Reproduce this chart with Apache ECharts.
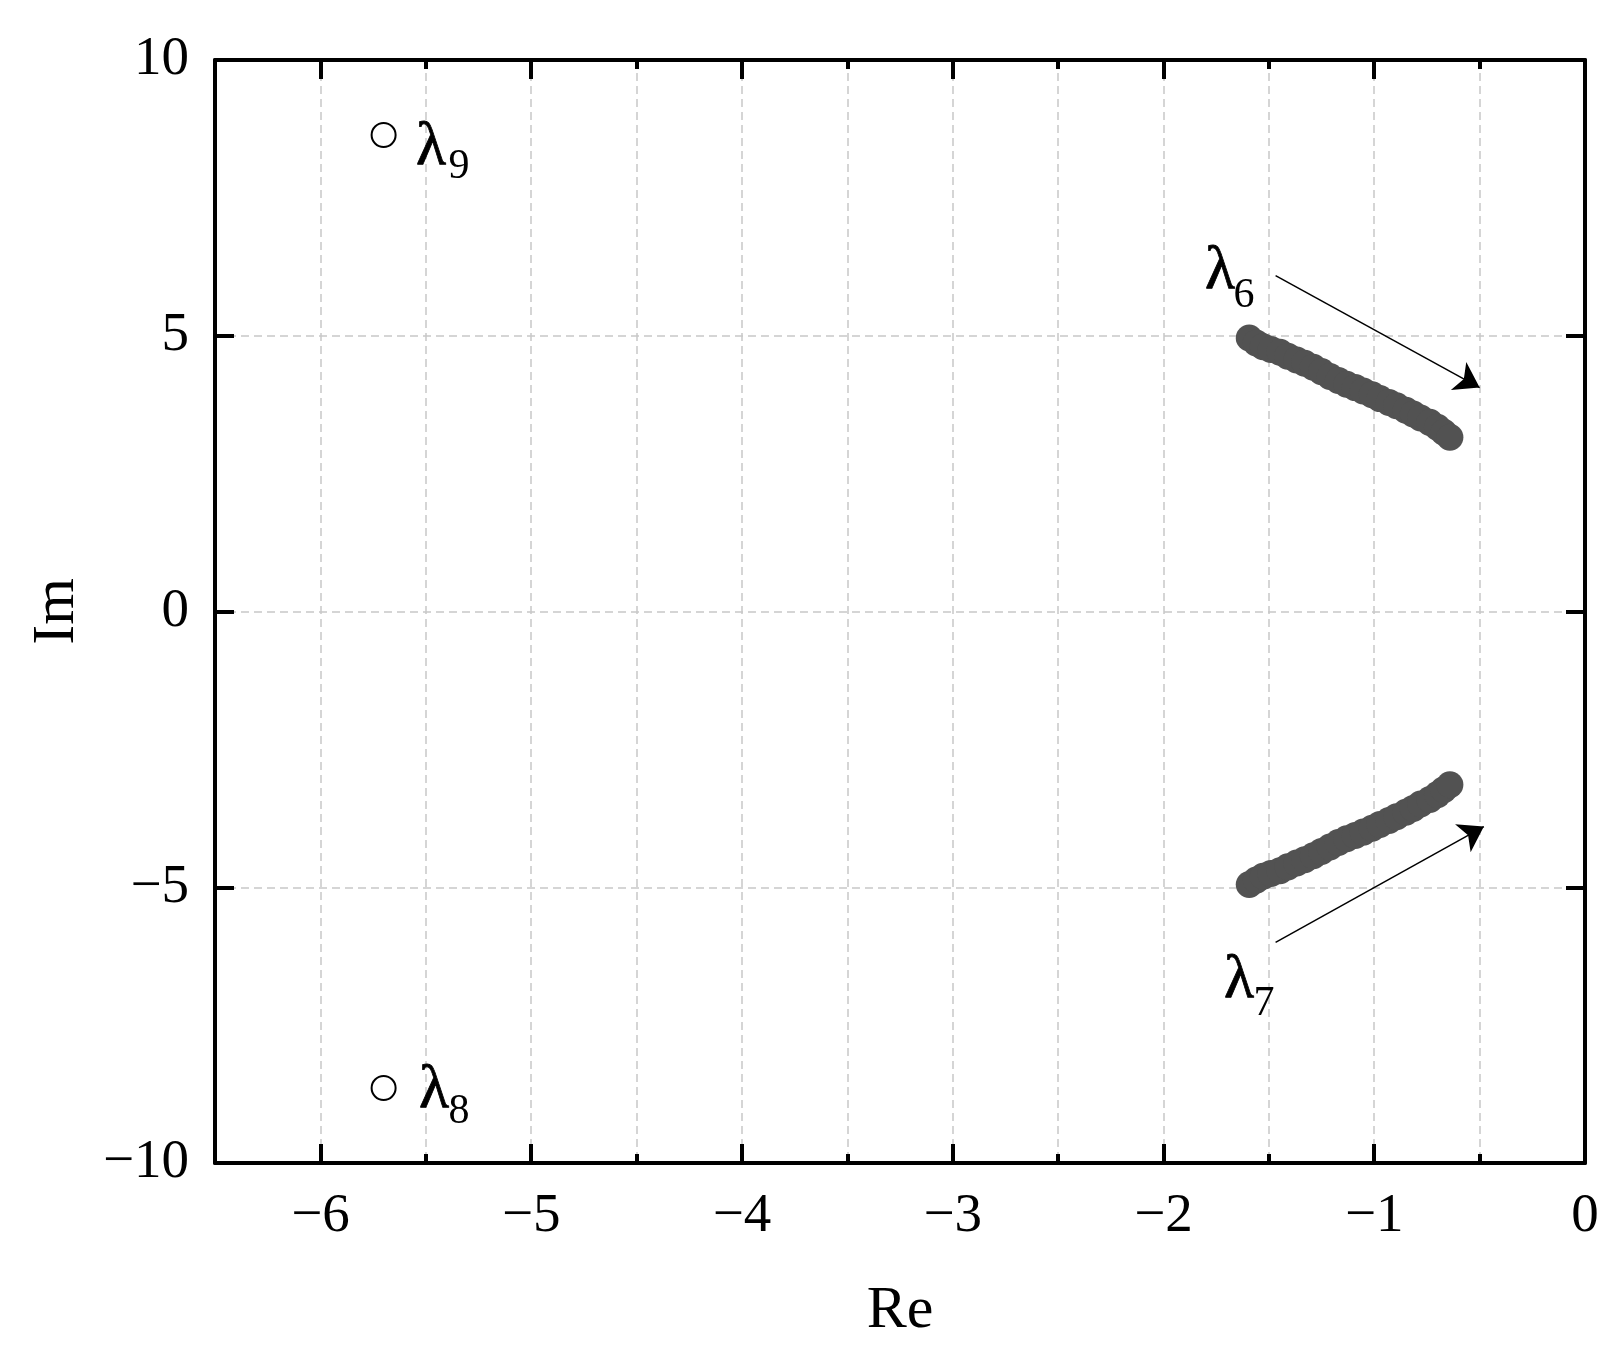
<!DOCTYPE html>
<html>
<head>
<meta charset="utf-8">
<script src="https://cdn.jsdelivr.net/npm/echarts@6/dist/echarts.min.js"></script>
<style>
  html, body { margin: 0; padding: 0; background: #fff; }
  #chart { width: 1621px; height: 1357px; }
</style>
</head>
<body>
<div id="chart"></div>
<script>
// 特征值轨迹 λ6 / λ7（密集点）
const lambda6Re = [-1.593, -1.56, -1.527, -1.49, -1.447, -1.41, -1.368, -1.33, -1.289, -1.25, -1.21, -1.17, -1.131,
    -1.09, -1.052, -1.01, -0.973, -0.93, -0.894, -0.85, -0.815, -0.78, -0.736, -0.70, -0.67, -0.641];
const lambda6Im = [4.96, 4.87, 4.80, 4.75, 4.70, 4.63, 4.56, 4.50, 4.43, 4.35, 4.26, 4.19, 4.12,
    4.06, 4.00, 3.93, 3.86, 3.79, 3.73, 3.65, 3.58, 3.51, 3.43, 3.34, 3.25, 3.16];
const lambda7Re = [-1.593, -1.56, -1.527, -1.49, -1.447, -1.41, -1.368, -1.33, -1.289, -1.25, -1.21, -1.17, -1.131,
    -1.09, -1.052, -1.01, -0.973, -0.93, -0.894, -0.85, -0.815, -0.78, -0.736, -0.70, -0.67, -0.641];
const lambda7Im = [-4.95, -4.87, -4.80, -4.75, -4.70, -4.63, -4.56, -4.50, -4.43, -4.35, -4.27, -4.19, -4.12,
    -4.06, -4.00, -3.93, -3.86, -3.79, -3.72, -3.64, -3.57, -3.49, -3.41, -3.32, -3.23, -3.14];

// 固定特征值 λ8 / λ9（空心圆）
const fixedRe = [-5.70, -5.70];
const fixedIm = [8.64, -8.64];

// 箭头（起点、终点）
const arrow6 = [[-1.468, 6.09], [-0.50, 4.06]];
const arrow7 = [[-1.468, -6.00], [-0.48, -3.90]];

// 标注
const labelText = ['λ', 'λ', 'λ', 'λ'];
const labelPos = [[-1.732, 6.155], [-1.642, -6.70], [-5.475, 8.404], [-5.461, -8.695]];
const subText = ['6', '7', '9', '8'];
const subPos = [[-1.618, 5.72], [-1.523, -7.12], [-5.342, 8.06], [-5.342, -9.076]];

// 坐标轴
const xMin = -6.5, xMax = 0;
const yMin = -10, yMax = 10, yStep = 5;

const FONT = "'Liberation Serif', 'Times New Roman', serif";

function fmtNum(v) {
    if (Math.abs(v - Math.round(v)) > 1e-9) return '';
    return v < 0 ? '\u2212' + Math.abs(v) : String(v);
}

function zip(a, b) {
    return a.map((v, i) => [v, b[i]]);
}

const chart = echarts.init(document.getElementById('chart'));

const frameLine = { show: true, onZero: false, lineStyle: { color: '#000', width: 4 } };
const majorTick = { show: true, inside: true, length: 19, lineStyle: { color: '#000', width: 4 } };
const dashGrid = { show: true, lineStyle: { color: '#c8c8c8', width: 1.5, type: [8, 5] } };

const option = {
    animation: false,
    backgroundColor: '#fff',
    grid: { left: 215, right: 36, top: 60, bottom: 194, containLabel: false },
    xAxis: [
        {
            type: 'value', position: 'bottom', min: xMin, max: xMax, splitNumber: 6,
            name: 'Re', nameLocation: 'middle', nameGap: 118,
            nameTextStyle: { fontFamily: FONT, fontSize: 60, color: '#000' },
            axisLine: frameLine,
            axisTick: majorTick,
            minorTick: { show: true, splitNumber: 2, length: 9, lineStyle: { color: '#000', width: 4 } },
            axisLabel: { fontFamily: FONT, fontSize: 55, color: '#000', margin: 26, formatter: fmtNum },
            splitLine: dashGrid,
            minorSplitLine: dashGrid
        },
        {
            type: 'value', position: 'top', min: xMin, max: xMax, splitNumber: 6,
            axisLine: frameLine,
            axisTick: majorTick,
            minorTick: { show: true, splitNumber: 2, length: 9, lineStyle: { color: '#000', width: 4 } },
            axisLabel: { show: false },
            splitLine: { show: false }
        }
    ],
    yAxis: [
        {
            type: 'value', position: 'left', min: yMin, max: yMax, interval: yStep,
            name: 'Im', nameLocation: 'middle', nameGap: 128,
            nameTextStyle: { fontFamily: FONT, fontSize: 60, color: '#000' },
            axisLine: frameLine,
            axisTick: majorTick,
            axisLabel: { fontFamily: FONT, fontSize: 55, color: '#000', margin: 26, formatter: fmtNum },
            splitLine: dashGrid
        },
        {
            type: 'value', position: 'right', min: yMin, max: yMax, interval: yStep,
            axisLine: frameLine,
            axisTick: majorTick,
            axisLabel: { show: false },
            splitLine: { show: false }
        }
    ],
    series: [
        {
            name: 'λ6', type: 'scatter', symbol: 'circle', symbolSize: 27,
            itemStyle: { color: '#525252', opacity: 1 },
            data: zip(lambda6Re, lambda6Im), z: 3, silent: true
        },
        {
            name: 'λ7', type: 'scatter', symbol: 'circle', symbolSize: 27,
            itemStyle: { color: '#525252', opacity: 1 },
            data: zip(lambda7Re, lambda7Im), z: 3, silent: true
        },
        {
            name: 'λ8/λ9', type: 'scatter', symbol: 'circle', symbolSize: 24,
            itemStyle: { color: '#fff', borderColor: '#000', borderWidth: 2, opacity: 1 },
            data: zip(fixedRe, fixedIm), z: 3, silent: true
        },
        {
            name: 'arrows', type: 'lines', coordinateSystem: 'cartesian2d',
            symbol: ['none', 'arrow'], symbolSize: [11, 24],
            lineStyle: { color: '#000', width: 1.5, opacity: 1 },
            data: [{ coords: arrow6 }, { coords: arrow7 }], z: 4, silent: true
        },
        {
            name: 'lambda', type: 'scatter', symbolSize: 0, silent: true, z: 5,
            itemStyle: { opacity: 1 },
            label: {
                show: true, position: 'inside', fontFamily: FONT, fontSize: 62, color: '#000',
                textBorderColor: '#000', textBorderWidth: 0.8,
                formatter: p => labelText[p.dataIndex]
            },
            data: labelPos
        },
        {
            name: 'sub', type: 'scatter', symbolSize: 0, silent: true, z: 5,
            itemStyle: { opacity: 1 },
            label: {
                show: true, position: 'inside', fontFamily: FONT, fontSize: 42, color: '#000',
                textBorderWidth: 0,
                formatter: p => subText[p.dataIndex]
            },
            data: subPos
        }
    ]
};

chart.setOption(option);
</script>
</body>
</html>
